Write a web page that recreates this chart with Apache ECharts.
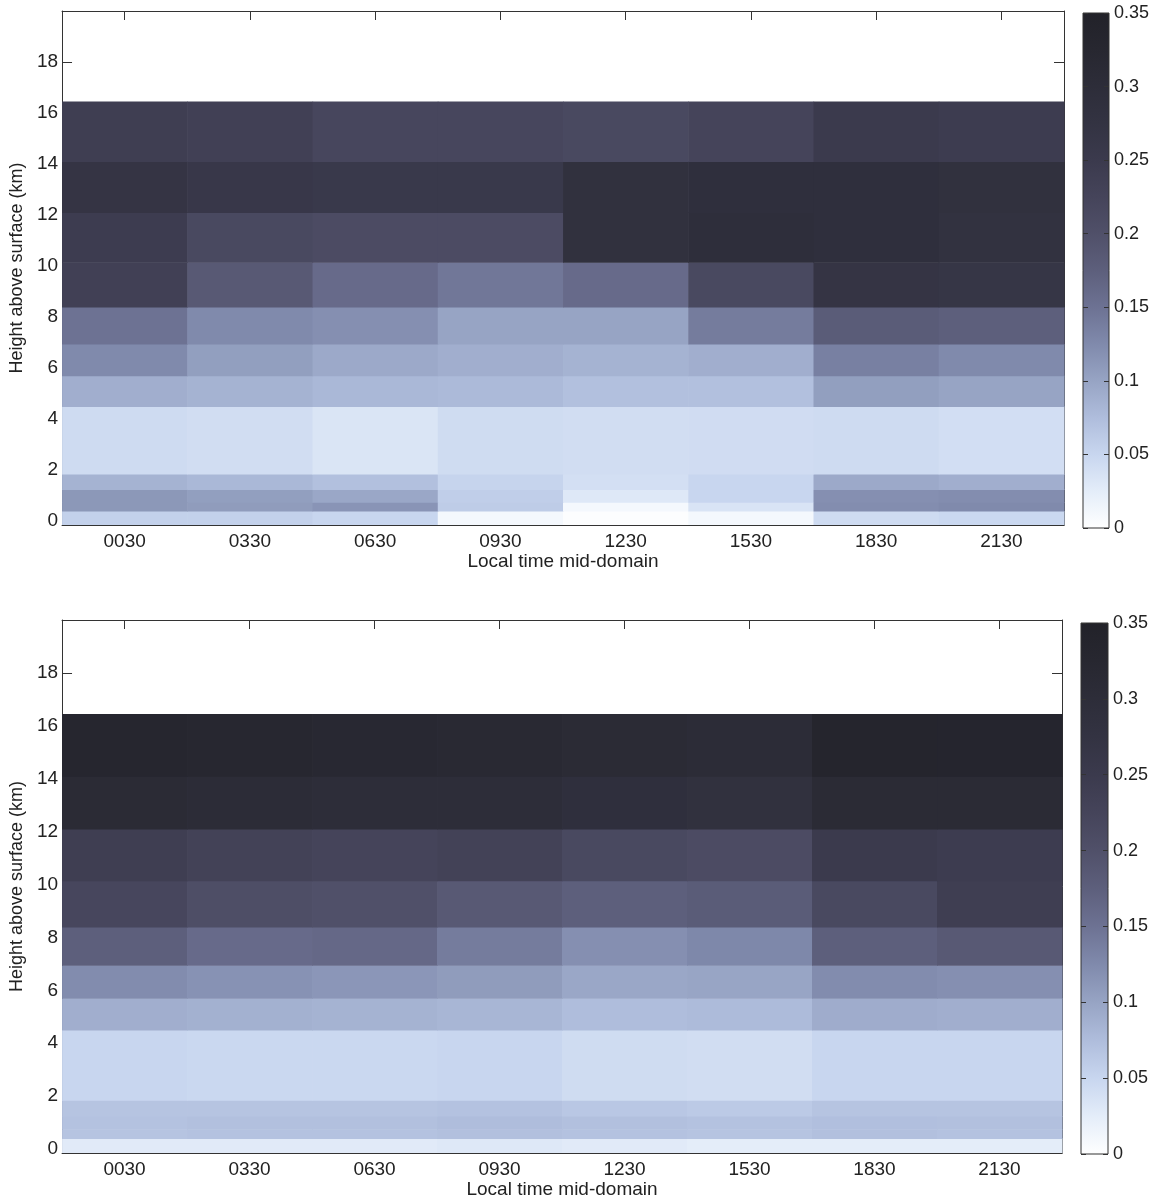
<!DOCTYPE html>
<html>
<head>
<meta charset="utf-8">
<script src="https://cdn.jsdelivr.net/npm/echarts@6/dist/echarts.min.js"></script>
<style>
html,body{margin:0;padding:0;background:#fff;}
#chart{width:1158px;height:1201px;}
</style>
</head>
<body>
<div id="chart"></div>
<script>
// ---- data ----
const timeLabels = ['0030','0330','0630','0930','1230','1530','1830','2130'];
const heightEdges = [-0.15, 0.4, 0.75, 1.25, 1.85, 4.5, 5.7, 6.95, 8.4, 10.15, 12.1, 14.1, 16.45];
const yTickValues = [0, 2, 4, 6, 8, 10, 12, 14, 16, 18];
const colorMin = 0;
const colorMax = 0.35;
const colorMap = ['#ffffff','#e4edf9','#c8d6ef','#afbddc','#97a4c4','#808aac','#6d7293','#5d5f7c',
                  '#505069','#45445a','#3b3a4d','#333342','#2d2d39','#272730','#222229'];

// rows bottom-up (one row per height band), columns = timeLabels
const topValues = [
  [0.055, 0.055, 0.050, 0.010, 0.003, 0.010, 0.045, 0.048],
  [0.112, 0.108, 0.115, 0.060, 0.010, 0.035, 0.122, 0.125],
  [0.112, 0.105, 0.097, 0.058, 0.030, 0.050, 0.120, 0.122],
  [0.085, 0.080, 0.072, 0.052, 0.040, 0.050, 0.095, 0.090],
  [0.045, 0.042, 0.034, 0.044, 0.042, 0.043, 0.045, 0.041],
  [0.090, 0.085, 0.080, 0.078, 0.072, 0.072, 0.105, 0.100],
  [0.125, 0.105, 0.095, 0.090, 0.085, 0.090, 0.135, 0.125],
  [0.150, 0.125, 0.120, 0.100, 0.100, 0.140, 0.180, 0.175],
  [0.235, 0.185, 0.160, 0.145, 0.160, 0.215, 0.270, 0.265],
  [0.245, 0.215, 0.210, 0.210, 0.285, 0.295, 0.290, 0.280],
  [0.270, 0.260, 0.255, 0.255, 0.285, 0.290, 0.290, 0.285],
  [0.240, 0.235, 0.220, 0.220, 0.215, 0.225, 0.250, 0.245]
];
const bottomValues = [
  [0.028, 0.028, 0.028, 0.030, 0.028, 0.025, 0.025, 0.025],
  [0.068, 0.070, 0.070, 0.072, 0.070, 0.068, 0.072, 0.070],
  [0.070, 0.072, 0.072, 0.075, 0.072, 0.070, 0.073, 0.072],
  [0.068, 0.068, 0.068, 0.070, 0.065, 0.062, 0.068, 0.068],
  [0.050, 0.048, 0.048, 0.050, 0.044, 0.042, 0.050, 0.050],
  [0.090, 0.087, 0.085, 0.082, 0.075, 0.077, 0.092, 0.090],
  [0.123, 0.117, 0.113, 0.108, 0.097, 0.099, 0.123, 0.120],
  [0.175, 0.160, 0.163, 0.140, 0.120, 0.127, 0.175, 0.185],
  [0.220, 0.205, 0.200, 0.185, 0.175, 0.180, 0.215, 0.240],
  [0.240, 0.230, 0.225, 0.230, 0.215, 0.210, 0.250, 0.245],
  [0.310, 0.305, 0.300, 0.300, 0.290, 0.285, 0.310, 0.310],
  [0.330, 0.325, 0.320, 0.318, 0.310, 0.305, 0.335, 0.333]
];
const xAxisTitle = 'Local time mid-domain';
const yAxisTitle = 'Height above surface (km)';

// ---- build ----
function cells(values) {
  const out = [];
  for (let r = 0; r < values.length; r++) {
    for (let c = 0; c < timeLabels.length; c++) {
      out.push([c, heightEdges[r], heightEdges[r + 1], values[r][c]]);
    }
  }
  return out;
}

const FONT = "'Liberation Sans', Arial, Helvetica, sans-serif";
const TXT = '#222';
const LINE = '#333';

function renderCell(params, api) {
  const c = api.value(0);
  const p0 = api.coord([c, api.value(1)]);
  const p1 = api.coord([c, api.value(2)]);
  const w = api.size([1, 0])[0];
  return {
    type: 'rect',
    shape: { x: p0[0] - w / 2, y: p1[1], width: w + 0.6, height: p0[1] - p1[1] + 0.6 },
    style: { fill: api.visual('color') }
  };
}

function gradientStops() {
  return colorMap.map((col, i) => ({ offset: 1 - i / (colorMap.length - 1), color: col }));
}

function renderBar(params, api) {
  const p0 = api.coord([0, api.value(1)]);
  const p1 = api.coord([1, api.value(2)]);
  return {
    type: 'rect',
    shape: { x: p0[0], y: p1[1], width: p1[0] - p0[0], height: p0[1] - p1[1] },
    style: { fill: new echarts.graphic.LinearGradient(0, 0, 0, 1, gradientStops()), stroke: LINE, lineWidth: 1 }
  };
}

const panels = [
  { grid: { left: 61, top: 11, width: 1003, height: 514 }, bar: { left: 1083, top: 13, width: 26, height: 515 }, values: topValues },
  { grid: { left: 60, top: 620, width: 1002, height: 533 }, bar: { left: 1081, top: 623, width: 27, height: 531 }, values: bottomValues }
];

const grid = [], xAxis = [], yAxis = [], series = [];
panels.forEach((p, i) => {
  const gi = grid.length;
  grid.push(p.grid);
  grid.push(p.bar);
  const mainX = xAxis.length;
  xAxis.push({
    type: 'category', gridIndex: gi, data: timeLabels, position: 'bottom',
    boundaryGap: true,
    name: xAxisTitle, nameLocation: 'middle', nameGap: 24,
    nameTextStyle: { fontFamily: FONT, fontSize: 19, color: TXT },
    axisLine: { show: true, onZero: false, lineStyle: { color: LINE, width: 1 } },
    axisTick: { show: true, inside: true, alignWithLabel: true, length: 9, lineStyle: { color: LINE } },
    axisLabel: { fontFamily: FONT, fontSize: 19, color: TXT, margin: 7 },
    splitLine: { show: false }
  });
  xAxis.push({
    type: 'category', gridIndex: gi, data: timeLabels, position: 'top',
    boundaryGap: true,
    axisLine: { show: true, onZero: false, lineStyle: { color: LINE, width: 1 } },
    axisTick: { show: true, inside: true, alignWithLabel: true, length: 9, lineStyle: { color: LINE } },
    axisLabel: { show: false }, splitLine: { show: false }
  });
  const mainY = yAxis.length;
  yAxis.push({
    type: 'value', gridIndex: gi, min: -0.15, max: 20, position: 'left',
    name: yAxisTitle, nameLocation: 'middle', nameGap: 30, nameRotate: 90,
    nameTextStyle: { fontFamily: FONT, fontSize: 18, color: TXT },
    axisLine: { show: true, onZero: false, lineStyle: { color: LINE, width: 1 } },
    axisTick: { show: true, inside: true, length: 10, customValues: yTickValues, lineStyle: { color: LINE } },
    axisLabel: { fontFamily: FONT, fontSize: 19, color: TXT, margin: 4, customValues: yTickValues },
    splitLine: { show: false }
  });
  yAxis.push({
    type: 'value', gridIndex: gi, min: -0.15, max: 20, position: 'right',
    axisLine: { show: true, onZero: false, lineStyle: { color: LINE, width: 1 } },
    axisTick: { show: true, inside: true, length: 10, customValues: yTickValues, lineStyle: { color: LINE } },
    axisLabel: { show: false, customValues: yTickValues }, splitLine: { show: false }
  });
  series.push({
    type: 'custom', name: 'panel' + i, xAxisIndex: mainX, yAxisIndex: mainY,
    renderItem: renderCell, clip: true,
    encode: { x: 0, y: [1, 2] },
    data: cells(p.values), z: 1
  });
  // colorbar
  const cbX = xAxis.length;
  xAxis.push({ type: 'value', gridIndex: gi + 1, min: 0, max: 1, show: false });
  const cbY = yAxis.length;
  yAxis.push({
    type: 'value', gridIndex: gi + 1, min: colorMin, max: colorMax, interval: 0.05, position: 'right',
    axisLine: { show: false, onZero: false },
    axisTick: { show: true, inside: true, length: 5, lineStyle: { color: LINE } },
    axisLabel: { fontFamily: FONT, fontSize: 18, color: TXT, margin: 5 },
    splitLine: { show: false }
  });
  yAxis.push({
    type: 'value', gridIndex: gi + 1, min: colorMin, max: colorMax, interval: 0.05, position: 'left',
    axisLine: { show: false, onZero: false },
    axisTick: { show: true, inside: true, length: 5, lineStyle: { color: LINE } },
    axisLabel: { show: false }, splitLine: { show: false }
  });
  series.push({
    type: 'custom', xAxisIndex: cbX, yAxisIndex: cbY, renderItem: renderBar,
    data: [[0, colorMin, colorMax]], z: 0, silent: true
  });
});

const chart = echarts.init(document.getElementById('chart'), null, { renderer: 'canvas' });
chart.setOption({
  backgroundColor: '#fff',
  animation: false,
  grid: grid,
  xAxis: xAxis,
  yAxis: yAxis,
  visualMap: {
    type: 'continuous', show: false, min: colorMin, max: colorMax, dimension: 3,
    seriesIndex: [0, 2], inRange: { color: colorMap }
  },
  series: series
});
</script>
</body>
</html>
